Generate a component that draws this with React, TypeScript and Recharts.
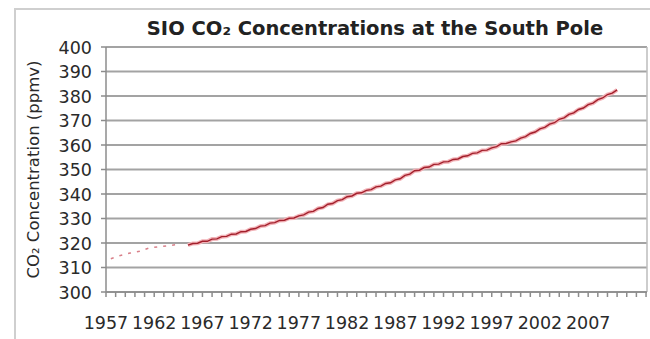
import React from 'react';
import { LineChart, Line, XAxis, YAxis, CartesianGrid, ReferenceLine } from 'recharts';

// sparse early record (flask samples)
const earlyYears = [1957.5, 1958.0, 1958.5, 1959.5, 1960.5, 1961.5, 1964.5];
const earlyCo2 = [313.6, 314.3, 314.9, 315.9, 316.6, 318.0, 319.4];

// continuous record, half-year steps from 1965.5
const mainStart = 1965.5;
const mainCo2 = [
  319.1,
  319.8, 319.9, 320.7, 320.7, 321.6, 321.7, 322.6, 322.7, 323.6, 323.7,
  324.6, 324.7, 325.6, 325.9, 326.9, 327.1, 328.1, 328.3, 329.2, 329.3,
  330.1, 330.2, 331.1, 331.5, 332.6, 332.9, 334.1, 334.5, 335.8, 336.1,
  337.3, 337.7, 338.9, 339.2, 340.3, 340.5, 341.5, 341.8, 342.9, 343.2,
  344.3, 344.6, 345.8, 346.2, 347.6, 348.1, 349.5, 349.7, 350.8, 351.0,
  352.1, 352.2, 353.1, 353.2, 354.1, 354.3, 355.3, 355.6, 356.6, 356.8,
  357.8, 357.9, 358.8, 359.3, 360.5, 360.6, 361.3, 361.7, 362.8, 363.4,
  364.7, 365.3, 366.6, 367.2, 368.5, 369.1, 370.5, 371.1, 372.5, 373.1,
  374.5, 375.1, 376.5, 377.1, 378.5, 379.2, 380.6, 381.2, 382.5,
];

const yTicks = [300, 310, 320, 330, 340, 350, 360, 370, 380, 390, 400];
const xLabels = ['1957', '1962', '1967', '1972', '1977', '1982', '1987', '1992', '1997', '2002', '2007'];
const xTicks = Array.from({ length: 57 }, (_, i) => 1957 + i);

const data = [
  ...earlyYears.map((y, i) => ({ year: y, early: earlyCo2[i] })),
  ...mainCo2.map((v, i) => ({ year: mainStart + i * 0.5, co2: v })),
];

const FONT = '"DejaVu Sans", Verdana, sans-serif';

const XTick = (props: any) => {
  const { x, y, payload } = props;
  const show = xLabels.includes(String(payload.value));
  return (
    <g>
      <line x1={x} y1={y} x2={x} y2={y + 5} stroke="#8c8c8c" strokeWidth={1.5} />
      {show && (
        <text x={x} y={y + 37} textAnchor="middle" fontFamily={FONT} fontSize={17.5} fill="#2a2a2a">
          {payload.value}
        </text>
      )}
    </g>
  );
};

const YTick = (props: any) => {
  const { x, y, payload } = props;
  return (
    <g>
      <line x1={x - 5} y1={y} x2={x} y2={y} stroke="#8c8c8c" strokeWidth={1.5} />
      <text x={x - 14} y={y + 6.5} textAnchor="end" fontFamily={FONT} fontSize={17.5} fill="#2a2a2a">
        {payload.value}
      </text>
    </g>
  );
};

export default function App() {
  return (
    <div style={{ position: 'absolute', left: 0, top: 0, width: 650, height: 339, background: '#fff', overflow: 'hidden' }}>
      <div style={{ position: 'absolute', left: 14, top: 8, width: 660, height: 360, borderLeft: '2px solid #cfcfcf', borderTop: '2px solid #cfcfcf' }} />
      <div
        style={{
          position: 'absolute', left: 100, top: 17, width: 550, textAlign: 'center',
          fontFamily: FONT, fontWeight: 'bold', fontSize: 19.5, color: '#222',
        }}
      >
        SIO CO₂ Concentrations at the South Pole
      </div>
      <div style={{ position: 'absolute', left: 0, top: 0 }}>
        <LineChart width={650} height={339} data={data} margin={{ top: 47, right: 3, bottom: 17, left: 0 }}>
          <CartesianGrid vertical={false} stroke="#a3a3a3" strokeWidth={2} />
          <XAxis
            dataKey="year"
            type="number"
            domain={[1957, 2013.1]}
            ticks={xTicks}
            interval={0}
            height={30}
            tick={<XTick />}
            tickLine={false}
            tickSize={0}
            tickMargin={0}
            axisLine={{ stroke: '#8c8c8c', strokeWidth: 1.5 }}
            allowDataOverflow
          />
          <YAxis
            type="number"
            domain={[300, 400]}
            ticks={yTicks}
            interval={0}
            width={106}
            tick={<YTick />}
            tickLine={false}
            tickSize={0}
            tickMargin={0}
            axisLine={{ stroke: '#8c8c8c', strokeWidth: 1.5 }}
            label={{
              value: 'CO₂ Concentration (ppmv)', angle: -90, position: 'insideLeft', offset: 0,
              style: { fontFamily: FONT, fontSize: 16.5, fill: '#2a2a2a', textAnchor: 'middle' },
              dx: 33,
            }}
          />
          <ReferenceLine x={2013.1} stroke="#bdbdbd" strokeWidth={1.5} />
          <Line dataKey="early" stroke="#d9808a" strokeWidth={1.5} strokeDasharray="3 6" dot={false} connectNulls isAnimationActive={false} />
          <Line dataKey="co2" stroke="#f2b3b8" strokeWidth={4} dot={false} isAnimationActive={false} />
          <Line dataKey="co2" stroke="#a3202c" strokeWidth={1.4} dot={false} isAnimationActive={false} />
        </LineChart>
      </div>
    </div>
  );
}
